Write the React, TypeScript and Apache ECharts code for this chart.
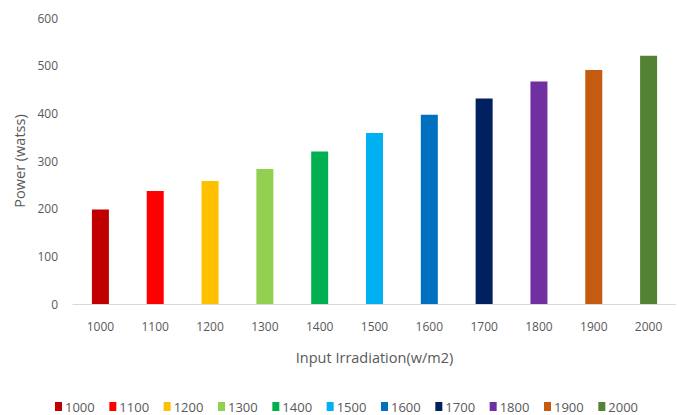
import React, { useEffect, useRef } from "react";
import * as echarts from "echarts";

const categories = ["1000", "1100", "1200", "1300", "1400", "1500", "1600", "1700", "1800", "1900", "2000"];
const powerValues = [198, 237, 258, 283, 320, 359, 397, 431, 467, 491, 521];
const barColors = ["#C00000", "#FF0000", "#FFC000", "#92D050", "#00B050", "#00B0F0", "#0070C0", "#002060", "#7030A0", "#C55A11", "#548235"];
const yTicks = [0, 100, 200, 300, 400, 500, 600];

const FONT = "'Open Sans', 'Noto Sans', sans-serif";
const TXT = "#595959";

export default function App() {
  const ref = useRef<HTMLDivElement>(null);
  useEffect(() => {
    if (!ref.current) return;
    const chart = echarts.init(ref.current, undefined, { renderer: "svg" });
    const series = categories.map((c, i) => ({
      name: c,
      type: "bar",
      stack: "all",
      barWidth: 17,
      itemStyle: { color: barColors[i] },
      data: categories.map((_, j) => (j === i ? powerValues[i] : "-")),
    }));
    chart.setOption({
      animation: false,
      textStyle: { fontFamily: FONT },
      grid: { left: 73, right: 2, top: 18, bottom: 111, containLabel: false },
      legend: {
        top: 400,
        left: 55,
        itemWidth: 7,
        itemHeight: 9,
        itemGap: 14.6,
        icon: "rect",
        padding: 0,
        textStyle: { color: TXT, fontSize: 13, fontFamily: FONT, padding: [0, 0, 0, -2] },
        data: categories,
      },
      xAxis: {
        type: "category",
        data: categories,
        name: "Input Irradiation(w/m2)",
        nameLocation: "middle",
        nameGap: 46,
        nameTextStyle: { color: TXT, fontSize: 14.5, fontFamily: FONT },
        axisLine: { lineStyle: { color: "#D9D9D9", width: 1 } },
        axisTick: { show: false },
        axisLabel: { color: TXT, fontSize: 12, margin: 16, fontFamily: FONT },
      },
      yAxis: {
        type: "value",
        min: yTicks[0],
        max: yTicks[yTicks.length - 1],
        interval: 100,
        name: "Power (watss)",
        nameLocation: "middle",
        nameGap: 44,
        nameTextStyle: { color: TXT, fontSize: 14.5, fontFamily: FONT },
        axisLine: { show: false },
        axisTick: { show: false },
        splitLine: { show: false },
        axisLabel: { color: TXT, fontSize: 12, margin: 15, fontFamily: FONT },
      },
      series,
    });
    return () => chart.dispose();
  }, []);
  return <div ref={ref} style={{ width: 678, height: 415, position: "absolute", left: 0, top: 0 }} />;
}
